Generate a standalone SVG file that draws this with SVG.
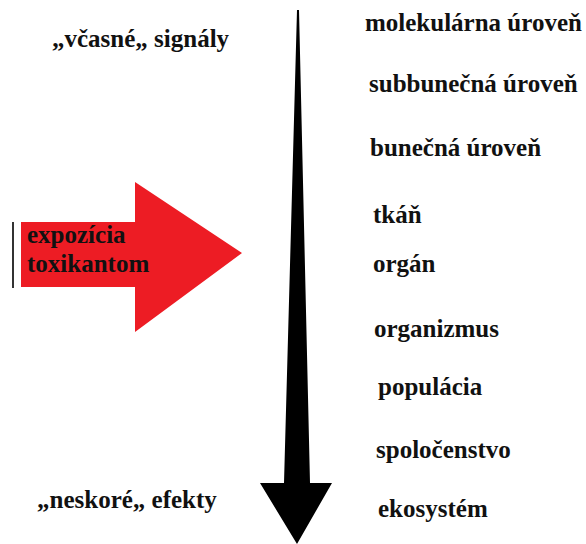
<svg xmlns="http://www.w3.org/2000/svg" width="586" height="544" viewBox="0 0 586 544">
<style>
text{font-family:"Liberation Serif","Times New Roman",serif;font-weight:700;font-size:25px;fill:#111;}
</style>
<rect width="586" height="544" fill="#fff"/>
<g id="connectors">
<polygon id="main-arrow" points="297,10 299,10 310,483 332,483 297,544 260,483 284,483" fill="#000"/>
</g>
<g id="exposure">
<line x1="13" y1="222" x2="13" y2="288" stroke="#333" stroke-width="2"/>
<polygon points="21,222 135,222 135,182 242,253 135,332 135,287 21,287" fill="#ED1C24"/>
<text x="27" y="243">expozícia</text>
<text x="27" y="272">toxikantom</text>
</g>
<g id="early"><text x="52" y="47">„včasné„ signály</text></g>
<g id="late"><text x="37" y="508">„neskoré„ efekty</text></g>
<g id="levels">
<g id="l1"><text x="365" y="31">molekulárna úroveň</text></g>
<g id="l2"><text x="369" y="92">subbunečná úroveň</text></g>
<g id="l3"><text x="370" y="156">bunečná úroveň</text></g>
<g id="l4"><text x="373" y="223">tkáň</text></g>
<g id="l5"><text x="373" y="272">orgán</text></g>
<g id="l6"><text x="374" y="337">organizmus</text></g>
<g id="l7"><text x="378" y="395">populácia</text></g>
<g id="l8"><text x="376" y="458">spoločenstvo</text></g>
<g id="l9"><text x="378" y="517">ekosystém</text></g>
</g>
</svg>
